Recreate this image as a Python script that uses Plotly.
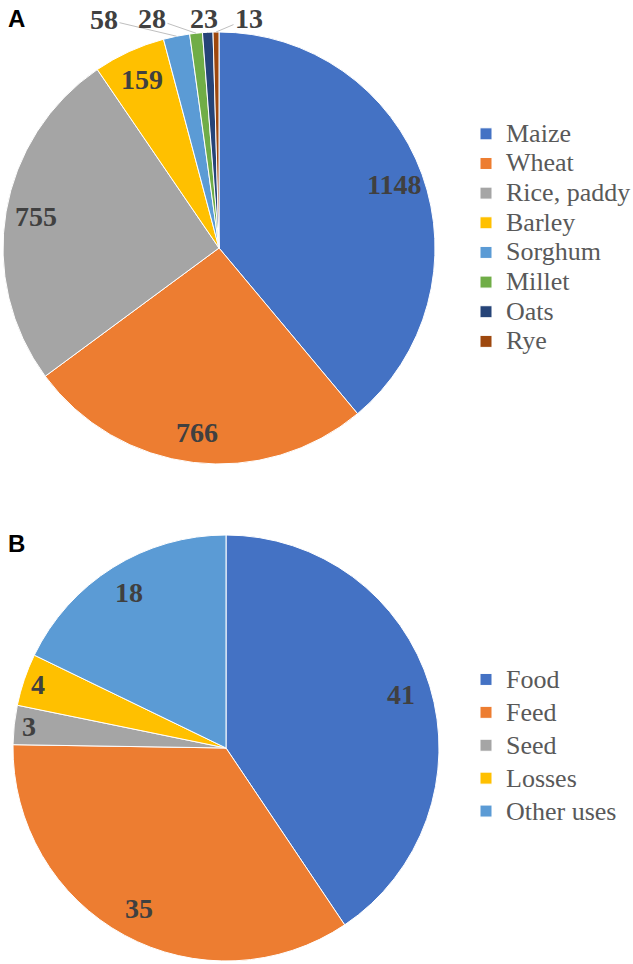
import math
import plotly.graph_objects as go

crops = ["Maize", "Wheat", "Rice, paddy", "Barley", "Sorghum", "Millet", "Oats", "Rye"]
crop_values = [1148, 766, 755, 159, 58, 28, 23, 13]
crop_colors = ["#4472C4", "#ED7D31", "#A5A5A5", "#FFC000", "#5B9BD5", "#70AD47", "#264478", "#9E480E"]

uses = ["Food", "Feed", "Seed", "Losses", "Other uses"]
use_values = [41, 35, 3, 4, 18]
use_colors = ["#4472C4", "#ED7D31", "#A5A5A5", "#FFC000", "#5B9BD5"]

W, H = 633, 964
# pie geometry in pixels: (center x, center y, radius)
PIE_A = (219, 248, 216)
PIE_B = (226, 748, 213)
LABEL_R = 0.86
SMALL_R = 0.93
# callout label positions (px) for the thin slices of panel A
CALLOUT_POS = {"Sorghum": (104, 19), "Millet": (152, 18), "Oats": (204, 18), "Rye": (249, 18)}

labfont = dict(family="Liberation Serif", size=28, color="#404040")


def px(x):
    return x / W


def py(y):
    return 1 - y / H


def dom(p):
    cx, cy, r = p
    return dict(x=[px(cx - r), px(cx + r)], y=[py(cy + r), py(cy - r)])


def mid_angles(vals):
    tot = sum(vals)
    out, cum = [], 0
    for v in vals:
        out.append(2 * math.pi * (cum + v / 2) / tot)
        cum += v
    return out


def polar(p, ang, frac):
    cx, cy, r = p
    return cx + frac * r * math.sin(ang), cy - frac * r * math.cos(ang)


def leg_label(s):
    return f'<span style="font-size:26px">{s}</span>'


fig = go.Figure()
fig.add_trace(go.Pie(
    labels=[leg_label(c) for c in crops], values=crop_values, sort=False,
    direction="clockwise", rotation=0,
    marker=dict(colors=crop_colors, line=dict(color="white", width=1)),
    textinfo="none", domain=dom(PIE_A), legend="legend",
    customdata=crops, hovertemplate="%{customdata}: %{value}<extra></extra>",
))
fig.add_trace(go.Pie(
    labels=[leg_label(u) for u in uses], values=use_values, sort=False,
    direction="clockwise", rotation=0,
    marker=dict(colors=use_colors, line=dict(color="white", width=1)),
    textinfo="none", domain=dom(PIE_B), legend="legend2",
    customdata=uses, hovertemplate="%{customdata}: %{value}<extra></extra>",
))

annots = []
for name, v, a in zip(crops, crop_values, mid_angles(crop_values)):
    if name in CALLOUT_POS:
        ex, ey = polar(PIE_A, a, 1.0)
        lx, ly = CALLOUT_POS[name]
        annots.append(dict(text=f"<b>{v}</b>", x=px(ex), y=py(ey), xref="paper", yref="paper",
                           ax=lx - ex, ay=ly - ey, axref="pixel", ayref="pixel",
                           xanchor="center", yanchor="middle",
                           showarrow=True, arrowhead=0, arrowwidth=1, arrowcolor="#BFBFBF",
                           standoff=0, startstandoff=0, font=labfont))
    else:
        x, y = polar(PIE_A, a, LABEL_R)
        annots.append(dict(text=f"<b>{v}</b>", x=px(x), y=py(y), xref="paper", yref="paper",
                           xanchor="center", yanchor="middle", showarrow=False, font=labfont))
for v, a in zip(use_values, mid_angles(use_values)):
    frac = LABEL_R if v > 10 else SMALL_R
    x, y = polar(PIE_B, a, frac)
    annots.append(dict(text=f"<b>{v}</b>", x=px(x), y=py(y), xref="paper", yref="paper",
                       xanchor="center", yanchor="middle", showarrow=False, font=labfont))

for letter, ytop in (("A", 3), ("B", 528)):
    annots.append(dict(text=f"<b>{letter}</b>", x=px(6), y=py(ytop), xref="paper", yref="paper",
                       xanchor="left", yanchor="top", showarrow=False,
                       font=dict(family="Liberation Sans", size=24, color="black")))

fig.update_layout(
    width=W, height=H, margin=dict(l=0, r=0, t=0, b=0, autoexpand=False),
    paper_bgcolor="white", plot_bgcolor="white",
    showlegend=True,
    legend=dict(x=px(466), y=py(114), xanchor="left", yanchor="top",
                font=dict(family="Liberation Serif", size=20.5, color="#595959"),
                bgcolor="rgba(0,0,0,0)", traceorder="normal"),
    legend2=dict(x=px(466), y=py(658), xanchor="left", yanchor="top",
                 font=dict(family="Liberation Serif", size=23, color="#595959"),
                 bgcolor="rgba(0,0,0,0)", traceorder="normal"),
    annotations=annots,
)
fig.write_html("out.html", config={"displayModeBar": False},
               post_script="document.body.style.margin='0';")
